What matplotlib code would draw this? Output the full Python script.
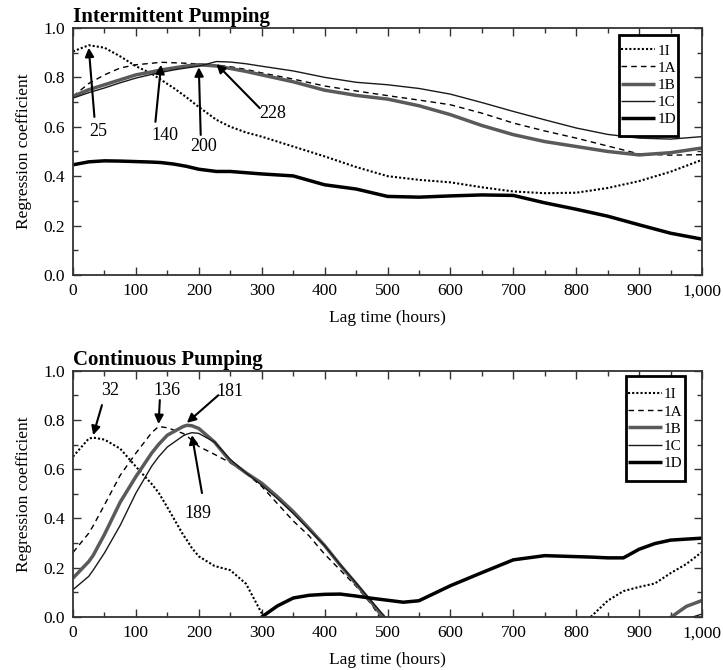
import numpy as np
import matplotlib
matplotlib.use("Agg")
import matplotlib.pyplot as plt
from matplotlib.patches import Rectangle
from matplotlib.ticker import MultipleLocator, FuncFormatter

plt.rcParams['font.family'] = ['Liberation Serif', 'DejaVu Serif']

# Intermittent pumping: regression coefficient vs lag time (hours)
lag_top = [0, 25, 50, 75, 100, 125, 140, 160, 180, 200, 228, 250, 275, 300, 350,
           400, 450, 500, 550, 600, 650, 700, 750, 800, 850, 900, 950, 1000]
top_1I = [0.905, 0.93, 0.92, 0.885, 0.845, 0.815, 0.79, 0.757, 0.72, 0.68, 0.628, 0.60, 0.577, 0.56, 0.52,
          0.48, 0.437, 0.40, 0.385, 0.375, 0.355, 0.338, 0.331, 0.333, 0.352, 0.38, 0.418, 0.466]
top_1A = [0.723, 0.775, 0.81, 0.838, 0.851, 0.857, 0.861, 0.859, 0.857, 0.854, 0.85, 0.843, 0.832, 0.818, 0.793,
          0.765, 0.745, 0.726, 0.708, 0.689, 0.655, 0.615, 0.583, 0.554, 0.522, 0.49, 0.485, 0.487]
top_1B = [0.723, 0.75, 0.77, 0.79, 0.81, 0.822, 0.83, 0.838, 0.846, 0.851, 0.846, 0.836, 0.824, 0.81, 0.782,
          0.748, 0.727, 0.712, 0.685, 0.649, 0.605, 0.568, 0.54, 0.52, 0.50, 0.486, 0.495, 0.514]
top_1C = [0.716, 0.738, 0.757, 0.778, 0.797, 0.812, 0.82, 0.83, 0.838, 0.845, 0.864, 0.862, 0.855, 0.845, 0.826,
          0.80, 0.78, 0.77, 0.755, 0.732, 0.698, 0.662, 0.628, 0.595, 0.569, 0.554, 0.55, 0.56]
top_1D = [0.446, 0.458, 0.462, 0.461, 0.459, 0.457, 0.455, 0.449, 0.44, 0.428, 0.419, 0.419, 0.414, 0.409, 0.401,
          0.365, 0.348, 0.318, 0.315, 0.32, 0.324, 0.322, 0.292, 0.266, 0.238, 0.203, 0.169, 0.145]

# Continuous pumping (values below zero run off the bottom of the axes)
lag_bot = [0, 25, 32, 50, 75, 100, 125, 136, 150, 175, 181, 189, 200, 225, 250, 275, 300, 325, 350, 375,
           400, 425, 450, 475, 500, 525, 550, 600, 650, 700, 750, 800, 825, 850, 875, 900, 925, 950, 975, 1000]
bot_1I = [0.651, 0.724, 0.728, 0.72, 0.683, 0.61, 0.54, 0.505, 0.445, 0.334, 0.312, 0.28, 0.246, 0.207, 0.19, 0.135, 0.015, -0.12, -0.2, -0.25,
          -0.28, -0.3, -0.3, -0.3, -0.3, -0.3, -0.3, -0.28, -0.24, -0.18, -0.12, -0.05, 0.005, 0.066, 0.105, 0.122, 0.136, 0.178, 0.215, 0.264]
bot_1A = [0.262, 0.34, 0.37, 0.455, 0.575, 0.665, 0.748, 0.773, 0.768, 0.745, 0.735, 0.717, 0.692, 0.66, 0.626, 0.583, 0.53, 0.46, 0.39, 0.33,
          0.255, 0.19, 0.125, 0.05, -0.05, -0.12, -0.18, -0.25, -0.3, -0.3, -0.3, -0.3, -0.3, -0.3, -0.3, -0.3, -0.3, -0.3, -0.3, -0.3]
bot_1B = [0.158, 0.225, 0.25, 0.335, 0.466, 0.57, 0.665, 0.70, 0.738, 0.773, 0.778, 0.776, 0.765, 0.71, 0.632, 0.585, 0.543, 0.488, 0.428, 0.36,
          0.29, 0.21, 0.135, 0.058, -0.025, -0.1, -0.15, -0.2, -0.2, -0.2, -0.2, -0.2, -0.2, -0.18, -0.13, -0.09, -0.05, -0.002, 0.043, 0.067]
bot_1C = [0.111, 0.165, 0.19, 0.26, 0.372, 0.503, 0.612, 0.65, 0.69, 0.735, 0.742, 0.748, 0.745, 0.71, 0.64, 0.585, 0.535, 0.48, 0.42, 0.355,
          0.29, 0.212, 0.138, 0.062, -0.01, -0.08, -0.13, -0.2, -0.2, -0.2, -0.2, -0.2, -0.2, -0.2, -0.16, -0.12, -0.08, -0.04, -0.008, 0.012]
bot_1D = [-0.3, -0.3, -0.3, -0.3, -0.3, -0.3, -0.3, -0.3, -0.3, -0.3, -0.3, -0.3, -0.3, -0.25, -0.15, -0.05, 0.0, 0.045, 0.077, 0.088,
          0.092, 0.093, 0.085, 0.076, 0.068, 0.06, 0.066, 0.127, 0.18, 0.232, 0.249, 0.245, 0.243, 0.24, 0.24, 0.275, 0.298, 0.312, 0.316, 0.32]

series_labels = ['1I', '1A', '1B', '1C', '1D']
series_styles = [
    dict(color='black', lw=1.5, ls=(0, (1, 1))),
    dict(color='black', lw=1.0, ls=(0, (4, 3))),
    dict(color='#5a5a5a', lw=2.5, ls='-'),
    dict(color='#1a1a1a', lw=1.0, ls='-'),
    dict(color='black', lw=2.5, ls='-'),
]

# peak lags: (label lag, series index, tail x, tail y, text x, text y, tip side)
peaks_top = [(25, 0, 34, 0.64, 40, 0.58, -1),
             (140, 1, 131, 0.62, 146, 0.563, -1),
             (200, 2, 203, 0.567, 207, 0.52, -1),
             (228, 3, 297, 0.675, 318, 0.655, -1)]
peaks_bot = [(32, 0, 46, 0.86, 59, 0.918, 1),
             (136, 1, 138, 0.88, 150, 0.918, 1),
             (181, 2, 231, 0.90, 250, 0.917, 1),
             (189, 3, 205, 0.503, 199, 0.42, -1)]


def draw_panel(ax, lag, values, title, peaks, legend_anchor):
    for label, y, st in zip(series_labels, values, series_styles):
        ax.plot(lag, y, label=label, solid_capstyle='butt', **st)

    for lag_val, idx, tx, ty, lx, ly, side in peaks:
        tip_y = np.interp(lag_val, lag, values[idx]) + side * 0.01
        ax.annotate('', xy=(lag_val, tip_y), xytext=(tx, ty),
                    arrowprops=dict(arrowstyle='-|>', color='black', lw=1.5,
                                    mutation_scale=13, shrinkA=0, shrinkB=0))
        ax.text(lx, ly, str(lag_val), ha='center', va='center', fontsize=13)

    ax.set_xlim(0, 1000)
    ax.set_ylim(0, 1)
    ax.xaxis.set_major_locator(MultipleLocator(100))
    ax.xaxis.set_minor_locator(MultipleLocator(50))
    ax.yaxis.set_major_locator(MultipleLocator(0.2))
    ax.yaxis.set_minor_locator(MultipleLocator(0.1))
    ax.xaxis.set_major_formatter(FuncFormatter(lambda v, p: '{:,.0f}'.format(v)))
    ax.yaxis.set_major_formatter(FuncFormatter(lambda v, p: '{:.1f}'.format(v)))
    ax.tick_params(which='both', direction='in', top=True, right=True,
                   labelsize=12.5, color='#333333', width=1.0, pad=6)
    ax.tick_params(which='major', length=6)
    ax.tick_params(which='minor', length=3.5)
    for sp in ax.spines.values():
        sp.set_color('#333333')
        sp.set_linewidth(1.3)

    ax.set_xlabel('Lag time (hours)', fontsize=12.5, labelpad=8)
    ax.set_ylabel('Regression coefficient', fontsize=12.5, labelpad=8)
    ax.set_title(title, loc='left', fontweight='bold', fontsize=15, pad=4)

    leg = ax.legend(loc='upper right', bbox_to_anchor=legend_anchor, fontsize=11,
                    frameon=True, fancybox=False, framealpha=1, edgecolor='black',
                    borderaxespad=0, borderpad=0.15, handlelength=2.2,
                    handletextpad=0.15, labelspacing=0.23)
    return leg


def boxed_legend(ax, leg, extra_px=7):
    # frame drawn by hand so it can be taller than the legend entries
    fig = ax.figure
    fig.canvas.draw()
    bb = leg.get_frame().get_window_extent()
    bb = bb.expanded(1.0, (bb.height + 2 * extra_px) / bb.height)
    bb = bb.transformed(ax.transAxes.inverted())
    leg.get_frame().set_visible(False)
    ax.add_patch(Rectangle((bb.x0, bb.y0), bb.width, bb.height, transform=ax.transAxes,
                           fc='white', ec='black', lw=2, zorder=4.9))


fig = plt.figure(figsize=(7.23, 6.70), dpi=100)
ax1 = fig.add_axes([0.101, 0.5896, 0.870, 0.3687])
ax2 = fig.add_axes([0.101, 0.0791, 0.870, 0.3678])

leg1 = draw_panel(ax1, lag_top, [top_1I, top_1A, top_1B, top_1C, top_1D],
                  'Intermittent Pumping', peaks_top, (0.962, 0.945))
leg2 = draw_panel(ax2, lag_bot, [bot_1I, bot_1A, bot_1B, bot_1C, bot_1D],
                  'Continuous Pumping', peaks_bot, (0.973, 0.94))
boxed_legend(ax1, leg1)
boxed_legend(ax2, leg2, extra_px=9)

fig.savefig('out.png', dpi=100)
